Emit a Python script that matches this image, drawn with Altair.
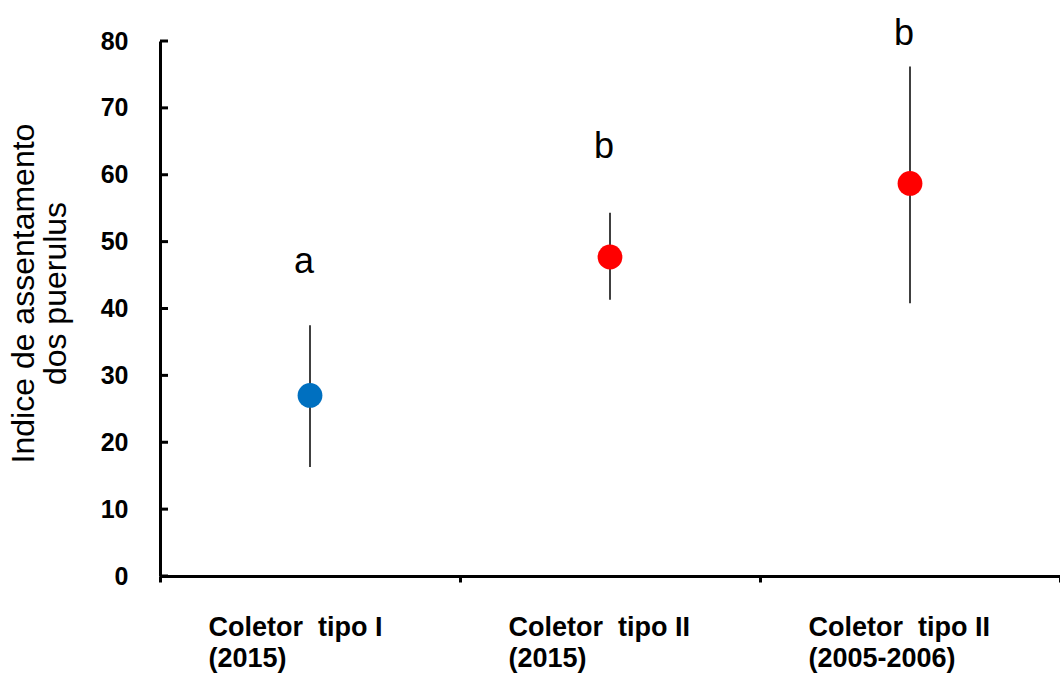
import altair as alt
import pandas as pd

categories = ["Coletor\u00a0 tipo I|(2015)", "Coletor\u00a0 tipo II|(2015)", "Coletor\u00a0 tipo II|(2005-2006)"]
means = [27.0, 47.7, 58.7]
lows = [16.3, 41.3, 40.8]
highs = [37.5, 54.3, 76.2]
letters = ["a", "b", "b"]
letter_y = [45.3, 62.5, 79.4]
colors = ["#0070C0", "#FF0000", "#FF0000"]
y_ticks = [0, 10, 20, 30, 40, 50, 60, 70, 80]

df = pd.DataFrame({
    "cat": categories, "mean": means, "low": lows, "high": highs,
    "letter": letters, "ly": letter_y, "color": colors,
})
ticks_df = pd.DataFrame({"v": y_ticks})

FONT = "Liberation Sans"

x_enc = alt.X(
    "cat:N", sort=categories, title=None,
    scale=alt.Scale(paddingInner=0, paddingOuter=0),
    axis=alt.Axis(
        labelExpr="split(datum.label, '|')", labelAngle=0, labelAlign="left",
        labelBaseline="top", labelOffset=-102,
        labelPadding=32, labelLineHeight=31, labelLimit=0,
        labelFont=FONT, labelFontSize=27, labelFontWeight="bold", labelColor="black",
        tickBand="extent", tickSize=6, tickWidth=3, tickColor="black",
        domainColor="black", domainWidth=3, grid=False,
    ),
)
y_scale = alt.Scale(domain=[0, 80], nice=False)

base = alt.Chart(df)

err = base.mark_rule(color="black", strokeWidth=1.5).encode(
    x=x_enc,
    y=alt.Y("low:Q", scale=y_scale, title=["Indice de assentamento", "dos puerulus"],
            axis=alt.Axis(values=y_ticks, ticks=False, labelPadding=32,
                          labelFont=FONT, labelFontSize=25, labelFontWeight="bold",
                          labelColor="black", domainColor="black", domainWidth=3,
                          grid=False, titleFont=FONT, titleFontSize=32,
                          titleFontWeight="normal", titleColor="black",
                          titleLineHeight=32, titleY=252, titleX=-120)),
    y2="high:Q",
)

pts = base.mark_circle(size=615, opacity=1).encode(
    x=alt.X("cat:N", sort=categories),
    y=alt.Y("mean:Q", scale=y_scale),
    color=alt.Color("color:N", scale=None),
)

txt = base.mark_text(font=FONT, fontSize=36, color="black", baseline="alphabetic",
                     dx=-6, clip=False).encode(
    x=alt.X("cat:N", sort=categories),
    y=alt.Y("ly:Q", scale=y_scale),
    text="letter:N",
)

yt = alt.Chart(ticks_df).mark_rule(color="black", strokeWidth=3).encode(
    y=alt.Y("v:Q", scale=y_scale),
    x=alt.value(0), x2=alt.value(8),
)

chart = alt.layer(err, yt, pts, txt).properties(
    width=900, height=535,
    background="white",
    autosize=alt.AutoSizeParams(type="none"),
    padding={"left": 160, "top": 41, "right": 0, "bottom": 103},
).configure_view(stroke="transparent")

chart.save("out.html", embed_options={"renderer": "svg", "actions": False})
